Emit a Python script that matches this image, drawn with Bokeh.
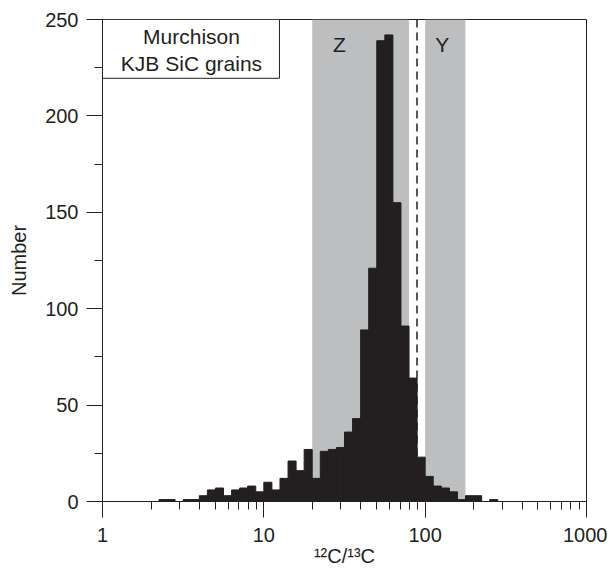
from bokeh.plotting import figure
from bokeh.models import FixedTicker, NumeralTickFormatter, Span, Label
from bokeh.embed import file_html
from bokeh.resources import INLINE

# Histogram bin edges (12C/13C), log-spaced bins
bin_edges = [2.239, 2.512, 2.818, 3.162, 3.548, 3.981, 4.467, 5.012, 5.623, 6.310,
             7.079, 7.943, 8.913, 10.0, 11.22, 12.59, 14.13, 15.85, 17.78, 19.95,
             22.39, 25.12, 28.18, 31.62, 35.48, 39.81, 44.67, 50.12, 56.23, 63.10,
             70.79, 79.43, 89.13, 100.0, 112.2, 125.9, 141.3, 158.5, 177.8, 199.5,
             223.9, 251.2, 281.8]
# Number of grains per bin
counts = [1, 1, 0, 1, 1, 3, 6, 7, 3, 6,
          7, 8, 5, 10, 6, 12, 21, 16, 27, 12,
          26, 27, 28, 36, 43, 89, 121, 239, 242, 155,
          91, 64, 23, 13, 8, 7, 5, 1, 3, 3,
          0, 1]
# Grain-type bands
band_names = ["Z", "Y"]
band_left = [19.95, 100.0]
band_right = [79.43, 177.8]
solar_ratio = 89.0

x_major = [1, 10, 100, 1000]
x_minor = [2, 3, 4, 5, 6, 7, 8, 9, 20, 30, 40, 50, 60, 70, 80, 90,
           200, 300, 400, 500, 600, 700, 800, 900]
y_major = [0, 50, 100, 150, 200, 250]
y_minor = [25, 75, 125, 175, 225]

INK = "#231f20"
GREY = "#bcbec0"
FONT = "Liberation Sans"

p = figure(x_axis_type="log", x_range=(1, 1000), y_range=(0, 250),
           frame_width=484, frame_height=482,
           min_border_left=102, min_border_right=21, min_border_top=19, min_border_bottom=63,
           output_backend="svg", toolbar_location=None)

# bands
p.quad(left=band_left, right=band_right, bottom=0, top=250,
       fill_color=GREY, line_color=None)

# histogram bars
p.quad(left=bin_edges[:-1], right=bin_edges[1:], bottom=0, top=counts,
       fill_color=INK, line_color=INK, line_width=1)

# solar ratio dashed line
p.add_layout(Span(location=solar_ratio, dimension="height", line_color=INK,
                  line_width=1.5, line_dash="8 5"))

# band labels
for name, xc in zip(band_names, [29.4, 127.5]):
    p.add_layout(Label(x=xc, y=236.8, text=name, text_align="center",
                       text_baseline="middle", text_font=FONT,
                       text_font_size="21px", text_color=INK))

# legend box
p.quad(left=[1], right=[12.5], bottom=[219.5], top=[250],
       fill_color="white", line_color=INK, line_width=1)
p.add_layout(Label(x=3.56, y=241.0, text="Murchison", text_align="center",
                   text_baseline="middle", text_font=FONT,
                   text_font_size="21px", text_color=INK))
p.add_layout(Label(x=3.56, y=227.3, text="KJB SiC grains", text_align="center",
                   text_baseline="middle", text_font=FONT,
                   text_font_size="21px", text_color=INK))

# axes
p.xaxis.ticker = FixedTicker(ticks=x_major, minor_ticks=x_minor)
p.xaxis.formatter = NumeralTickFormatter(format="0")
p.yaxis.ticker = FixedTicker(ticks=y_major, minor_ticks=y_minor)
p.xaxis.axis_label = "\u00b9\u00b2C/\u00b9\u00b3C"
p.yaxis.axis_label = "Number"
for ax in [p.xaxis, p.yaxis]:
    ax.major_tick_out = 16
    ax.major_tick_in = 0
    ax.minor_tick_out = 8
    ax.minor_tick_in = 0
    ax.major_tick_line_color = INK
    ax.minor_tick_line_color = INK
    ax.axis_line_color = INK
    ax.major_label_standoff = 8
    ax.major_label_text_font = FONT
    ax.major_label_text_font_size = "20px"
    ax.major_label_text_color = INK
    ax.axis_label_text_font = FONT
    ax.axis_label_text_font_size = "20px"
    ax.axis_label_text_font_style = "normal"
    ax.axis_label_text_color = INK
p.xaxis.major_label_standoff = 10
p.xaxis.axis_label_standoff = 0
p.yaxis.axis_label_standoff = 12

p.grid.visible = False
p.outline_line_color = INK
p.outline_line_width = 1
p.background_fill_color = "white"
p.border_fill_color = "white"

open("out.html", "w").write(file_html(p, INLINE))
